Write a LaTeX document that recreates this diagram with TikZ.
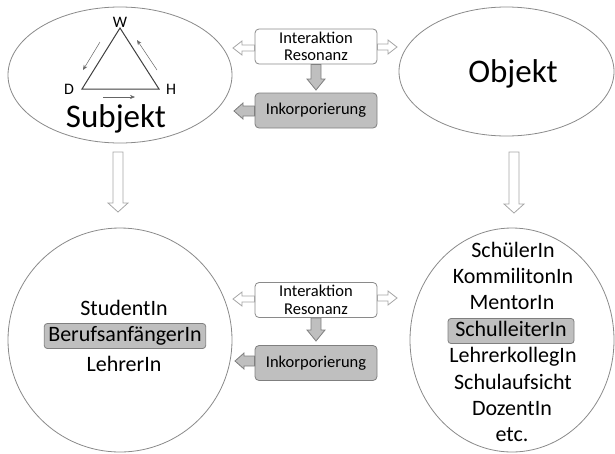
\documentclass[tikz,border=0pt]{standalone}
\usepackage{fontspec}
\setmainfont{Carlito}
\usetikzlibrary{calc,shapes.geometric,arrows.meta}
\definecolor{ellgray}{HTML}{8A8A8A}
\definecolor{arrgray}{HTML}{A6A6A6}
\definecolor{boxgray}{HTML}{BFBFBF}
\definecolor{boxborder}{HTML}{7F7F7F}
\definecolor{trigray}{HTML}{3F3F3F}
\newcommand\boxfont{\fontsize{16.5}{17.5}\selectfont}
% horizontal block arrow: style, base, tip, shaft half width, head half width, head length
\newcommand\hblock[6]{%
  \draw[#1] let \p1=(#2), \p2=(#3), \n1={ifthenelse(\x2>\x1,\x2-#6,\x2+#6)} in
    (\x1,\y2+#4) -- (\n1,\y2+#4) -- (\n1,\y2+#5) -- (\x2,\y2) -- (\n1,\y2-#5) -- (\n1,\y2-#4) -- (\x1,\y2-#4) -- cycle;}
% vertical block arrow
\newcommand\vblock[6]{%
  \draw[#1] let \p1=(#2), \p2=(#3), \n1={ifthenelse(\y2>\y1,\y2-#6,\y2+#6)} in
    (\x2+#4,\y1) -- (\x2+#4,\n1) -- (\x2+#5,\n1) -- (\x2,\y2) -- (\x2-#5,\n1) -- (\x2-#4,\n1) -- (\x2-#4,\y1) -- cycle;}
\begin{document}
\begin{tikzpicture}[x=1pt,y=-1pt,
  ell/.style={ellipse, draw=ellgray, line width=0.8pt, inner sep=0pt, outer sep=0pt},
  big/.style={font=\fontsize{33}{36}\selectfont, inner sep=0pt, anchor=base},
  lbl/.style={font=\fontsize{16}{18}\selectfont, inner sep=0pt, anchor=base},
  item/.style={font=\fontsize{22}{26}\selectfont, inner sep=0pt, anchor=base},
  hbox/.style={fill=boxgray, draw=boxborder, line width=0.8pt, rounded corners=3pt,
    text height=15pt, text depth=5pt, inner xsep=4pt, inner ysep=2.5pt},
  wbox/.style={draw=ellgray, fill=white, line width=0.8pt, rounded corners=4pt,
    minimum width=122pt, minimum height=35pt, inner sep=0pt, align=center,
    font=\boxfont},
  gbox/.style={wbox, fill=boxgray, draw=boxborder},
  hollow/.style={draw=arrgray, fill=white, line width=0.8pt, line join=miter},
  grayarr/.style={draw=boxborder, fill=boxgray, line width=0.8pt, line join=miter},
  tri/.style={draw=trigray, line width=1pt},
  smallarr/.style={draw=trigray!80, line width=0.5pt, -{Stealth[length=5pt,width=4pt]}}
]
\useasboundingbox (0,0) rectangle (615,453);

% ellipses
\node[ell, minimum width=224pt, minimum height=136pt] (subj) at (120,75) {};
\node[ell, minimum width=215pt, minimum height=129pt] (obj) at (506.5,71.5) {};
\node[ell, minimum width=224pt, minimum height=224pt] (subjb) at (120,340) {};
\node[ell, minimum width=204pt, minimum height=224pt] (objb) at (512,340) {};

\node[big] (subjt) at (116,127) {Subjekt};
\node[big] (objt) at (513,82) {Objekt};

% triangle
\coordinate (tw) at (120,28);
\coordinate (td) at (82,89);
\coordinate (th) at (159,89);
\draw[tri] (tw) -- (td) -- (th) -- cycle;
\node[lbl] (lw) at (120,27) {W};
\node[lbl] (ld) at (69,94) {D};
\node[lbl] (lh) at (171,94) {H};
\coordinate (a1s) at (100,42); \coordinate (a1e) at (83,70);
\coordinate (a2s) at (157,70); \coordinate (a2e) at (137,40);
\coordinate (a3s) at (103,97); \coordinate (a3e) at (135,97);
\draw[smallarr] (a1s) -- (a1e);
\draw[smallarr] (a2s) -- (a2e);
\draw[smallarr] (a3s) -- (a3e);

% top boxes
\node[wbox] (ia1) at (316,46.5) {\boxfont Interaktion\\\boxfont Resonanz};
\node[gbox] (ink1) at (316,110.5) {\boxfont Inkorporierung};
\coordinate (t1l) at (233,48);
\coordinate (t1r) at (397,47);
\coordinate (t1d) at (316,90);
\coordinate (t1g) at (234,111);
\hblock{hollow}{ia1.west}{t1l}{3pt}{7pt}{9pt}
\hblock{hollow}{ia1.east}{t1r}{3pt}{7pt}{9pt}
\vblock{grayarr}{ia1.south}{t1d}{5pt}{9pt}{11pt}
\hblock{grayarr}{ink1.west}{t1g}{5pt}{8pt}{9pt}

% bottom boxes
\node[wbox] (ia2) at (316,300) {\boxfont Interaktion\\\boxfont Resonanz};
\node[gbox] (ink2) at (316,363) {\boxfont Inkorporierung};
\coordinate (t2l) at (233,299);
\coordinate (t2r) at (397,298);
\coordinate (t2d) at (316,341);
\coordinate (t2g) at (235,361);
\hblock{hollow}{ia2.west}{t2l}{3pt}{7pt}{9pt}
\hblock{hollow}{ia2.east}{t2r}{3pt}{7pt}{9pt}
\vblock{grayarr}{ia2.south}{t2d}{5pt}{9pt}{11pt}
\hblock{grayarr}{ink2.west}{t2g}{5pt}{8pt}{9pt}

% vertical hollow arrows
\coordinate (v1s) at (118,152); \coordinate (v1e) at (118,212);
\coordinate (v2s) at (514,152); \coordinate (v2e) at (514,213);
\vblock{hollow}{v1s}{v1e}{5pt}{10pt}{9pt}
\vblock{hollow}{v2s}{v2e}{5pt}{10pt}{9pt}

% left list
\node[item] (st) at (124,315) {StudentIn};
\node[item, hbox] (bf) at (125,341) {BerufsanfängerIn};
\node[item] (lr) at (124,371) {LehrerIn};

% right list
\node[item] (r1) at (513,257) {SchülerIn};
\node[item] (r2) at (513,283) {KommilitonIn};
\node[item] (r3) at (512,309) {MentorIn};
\node[item, hbox, minimum width=126pt] (r4) at (511,336) {SchulleiterIn};
\node[item] (r5) at (513,362) {LehrerkollegIn};
\node[item] (r6) at (513,389) {Schulaufsicht};
\node[item] (r7) at (512,415) {DozentIn};
\node[item] (r8) at (512,441) {etc.};
\end{tikzpicture}
\end{document}
